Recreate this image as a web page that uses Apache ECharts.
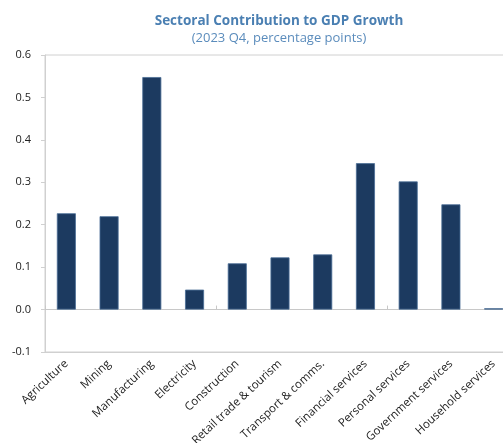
<!DOCTYPE html>
<html>
<head>
<meta charset="utf-8">
<script src="https://cdn.jsdelivr.net/npm/echarts@6/dist/echarts.min.js"></script>
<style>
  html, body { margin: 0; padding: 0; background: #fff; }
  #chart { width: 503px; height: 443px; }
</style>
</head>
<body>
<div id="chart"></div>
<script>
// sectors and their contribution (pp)
const sectors = [
  'Agriculture', 'Mining', 'Manufacturing', 'Electricity', 'Construction',
  'Retail trade & tourism', 'Transport & comms.', 'Financial services',
  'Personal services', 'Government services', 'Household services'
];
const contrib = [0.227, 0.22, 0.548, 0.047, 0.109, 0.123, 0.13, 0.345, 0.302, 0.248, 0.003];

const chart = echarts.init(document.getElementById('chart'), null, { renderer: 'canvas' });
const font = '"Open Sans", "Noto Sans", sans-serif';

chart.setOption({
  backgroundColor: '#fff',
  animation: false,
  title: {
    text: 'Sectoral Contribution to GDP Growth',
    subtext: '(2023 Q4, percentage points)',
    left: 274,
    textAlign: 'center',
    top: 9,
    itemGap: 4,
    textStyle: { color: '#4a7fb2', fontSize: 13.5, fontWeight: 'bold', fontFamily: font },
    subtextStyle: { color: '#5b8cbc', fontSize: 13, fontFamily: font },
  },
  grid: {
    left: 45, top: 55, width: 470, height: 297,
    outerBoundsMode: 'none',
    show: true, borderColor: '#d0d0d0', borderWidth: 1,
  },
  xAxis: [
    {
      type: 'category',
      data: sectors,
      position: 'bottom',
      axisLine: { onZero: false, lineStyle: { color: '#d0d0d0' } },
      axisTick: { show: false },
      axisLabel: { rotate: 43, interval: 0, fontSize: 11.5, color: '#222', fontFamily: font, margin: 10 },
    },
    {
      type: 'category',
      data: sectors,
      position: 'bottom',
      axisLine: { onZero: true, lineStyle: { color: '#c8c8c8' } },
      axisTick: { show: true, inside: true, length: 4, lineStyle: { color: '#c8c8c8' } },
      axisLabel: { show: false },
    },
  ],
  yAxis: {
    type: 'value',
    min: -0.1,
    max: 0.6,
    interval: 0.1,
    axisLine: { show: true, lineStyle: { color: '#d0d0d0' } },
    axisTick: { show: true, length: 4, lineStyle: { color: '#d0d0d0' } },
    splitLine: { show: false },
    axisLabel: {
      fontSize: 11, color: '#222', fontFamily: font, margin: 14,
      formatter: (v) => v.toFixed(1),
    },
  },
  series: [{
    type: 'bar',
    data: contrib,
    barWidth: 19,
    itemStyle: { color: '#1c3a60', borderColor: '#4a6d96', borderWidth: 0.8 },
  }],
});
</script>
</body>
</html>
